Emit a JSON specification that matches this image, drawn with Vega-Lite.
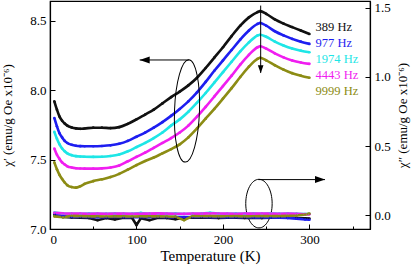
{
  "$schema": "https://vega.github.io/schema/vega-lite/v6.json",
  "width": 320,
  "height": 228,
  "autosize": "none",
  "padding": {"left": 50, "top": 1, "right": 46, "bottom": 37},
  "config": {
    "font": "Liberation Serif",
    "view": {"stroke": "black", "strokeWidth": 1.2},
    "axis": {
      "grid": false,
      "domainColor": "black",
      "domainWidth": 1.2,
      "tickColor": "black",
      "tickWidth": 1,
      "labelFont": "Liberation Serif",
      "labelFontSize": 13,
      "labelColor": "black",
      "titleFont": "Liberation Serif",
      "titleFontWeight": "normal",
      "titleColor": "black"
    },
    "legend": {"labelFont": "Liberation Serif"}
  },
  "datasets": {
    "chi1": [
      {"T":5,"f":"389 Hz","v":7.92},{"T":8,"f":"389 Hz","v":7.86},{"T":11,"f":"389 Hz","v":7.81},{"T":14,"f":"389 Hz","v":7.78},{"T":17,"f":"389 Hz","v":7.76},{"T":20,"f":"389 Hz","v":7.745},{"T":25,"f":"389 Hz","v":7.732},{"T":30,"f":"389 Hz","v":7.725},{"T":35,"f":"389 Hz","v":7.722},{"T":40,"f":"389 Hz","v":7.724},{"T":50,"f":"389 Hz","v":7.73},{"T":60,"f":"389 Hz","v":7.73},{"T":70,"f":"389 Hz","v":7.727},{"T":80,"f":"389 Hz","v":7.734},{"T":90,"f":"389 Hz","v":7.758},{"T":100,"f":"389 Hz","v":7.79},{"T":110,"f":"389 Hz","v":7.825},{"T":120,"f":"389 Hz","v":7.86},{"T":130,"f":"389 Hz","v":7.905},{"T":140,"f":"389 Hz","v":7.95},{"T":150,"f":"389 Hz","v":7.99},{"T":160,"f":"389 Hz","v":8.035},{"T":170,"f":"389 Hz","v":8.09},{"T":180,"f":"389 Hz","v":8.16},{"T":190,"f":"389 Hz","v":8.235},{"T":200,"f":"389 Hz","v":8.31},{"T":210,"f":"389 Hz","v":8.39},{"T":220,"f":"389 Hz","v":8.465},{"T":230,"f":"389 Hz","v":8.525},{"T":240,"f":"389 Hz","v":8.563},{"T":243,"f":"389 Hz","v":8.57},{"T":250,"f":"389 Hz","v":8.55},{"T":260,"f":"389 Hz","v":8.51},{"T":270,"f":"389 Hz","v":8.48},{"T":280,"f":"389 Hz","v":8.455},{"T":290,"f":"389 Hz","v":8.43},{"T":300,"f":"389 Hz","v":8.405},
      {"T":5,"f":"977 Hz","v":7.8},{"T":8,"f":"977 Hz","v":7.74},{"T":11,"f":"977 Hz","v":7.69},{"T":14,"f":"977 Hz","v":7.66},{"T":17,"f":"977 Hz","v":7.635},{"T":20,"f":"977 Hz","v":7.62},{"T":25,"f":"977 Hz","v":7.607},{"T":30,"f":"977 Hz","v":7.6},{"T":35,"f":"977 Hz","v":7.597},{"T":40,"f":"977 Hz","v":7.596},{"T":50,"f":"977 Hz","v":7.596},{"T":60,"f":"977 Hz","v":7.598},{"T":70,"f":"977 Hz","v":7.603},{"T":80,"f":"977 Hz","v":7.614},{"T":90,"f":"977 Hz","v":7.635},{"T":100,"f":"977 Hz","v":7.665},{"T":110,"f":"977 Hz","v":7.695},{"T":120,"f":"977 Hz","v":7.73},{"T":130,"f":"977 Hz","v":7.77},{"T":140,"f":"977 Hz","v":7.815},{"T":150,"f":"977 Hz","v":7.865},{"T":160,"f":"977 Hz","v":7.92},{"T":170,"f":"977 Hz","v":7.985},{"T":180,"f":"977 Hz","v":8.06},{"T":190,"f":"977 Hz","v":8.14},{"T":200,"f":"977 Hz","v":8.215},{"T":210,"f":"977 Hz","v":8.29},{"T":220,"f":"977 Hz","v":8.365},{"T":230,"f":"977 Hz","v":8.43},{"T":240,"f":"977 Hz","v":8.478},{"T":243,"f":"977 Hz","v":8.485},{"T":250,"f":"977 Hz","v":8.465},{"T":260,"f":"977 Hz","v":8.425},{"T":270,"f":"977 Hz","v":8.395},{"T":280,"f":"977 Hz","v":8.37},{"T":290,"f":"977 Hz","v":8.35},{"T":300,"f":"977 Hz","v":8.334},
      {"T":5,"f":"1974 Hz","v":7.7},{"T":8,"f":"1974 Hz","v":7.65},{"T":11,"f":"1974 Hz","v":7.61},{"T":14,"f":"1974 Hz","v":7.58},{"T":17,"f":"1974 Hz","v":7.56},{"T":20,"f":"1974 Hz","v":7.545},{"T":25,"f":"1974 Hz","v":7.532},{"T":30,"f":"1974 Hz","v":7.525},{"T":35,"f":"1974 Hz","v":7.522},{"T":40,"f":"1974 Hz","v":7.521},{"T":50,"f":"1974 Hz","v":7.52},{"T":60,"f":"1974 Hz","v":7.521},{"T":70,"f":"1974 Hz","v":7.526},{"T":80,"f":"1974 Hz","v":7.537},{"T":90,"f":"1974 Hz","v":7.56},{"T":100,"f":"1974 Hz","v":7.59},{"T":110,"f":"1974 Hz","v":7.62},{"T":120,"f":"1974 Hz","v":7.655},{"T":130,"f":"1974 Hz","v":7.695},{"T":140,"f":"1974 Hz","v":7.745},{"T":150,"f":"1974 Hz","v":7.79},{"T":160,"f":"1974 Hz","v":7.845},{"T":170,"f":"1974 Hz","v":7.91},{"T":180,"f":"1974 Hz","v":7.98},{"T":190,"f":"1974 Hz","v":8.055},{"T":200,"f":"1974 Hz","v":8.13},{"T":210,"f":"1974 Hz","v":8.205},{"T":220,"f":"1974 Hz","v":8.28},{"T":230,"f":"1974 Hz","v":8.345},{"T":240,"f":"1974 Hz","v":8.395},{"T":243,"f":"1974 Hz","v":8.4},{"T":250,"f":"1974 Hz","v":8.385},{"T":260,"f":"1974 Hz","v":8.35},{"T":270,"f":"1974 Hz","v":8.322},{"T":280,"f":"1974 Hz","v":8.3},{"T":290,"f":"1974 Hz","v":8.285},{"T":300,"f":"1974 Hz","v":8.274},
      {"T":5,"f":"4443 Hz","v":7.58},{"T":8,"f":"4443 Hz","v":7.535},{"T":11,"f":"4443 Hz","v":7.505},{"T":14,"f":"4443 Hz","v":7.48},{"T":17,"f":"4443 Hz","v":7.465},{"T":20,"f":"4443 Hz","v":7.452},{"T":25,"f":"4443 Hz","v":7.443},{"T":30,"f":"4443 Hz","v":7.438},{"T":35,"f":"4443 Hz","v":7.436},{"T":40,"f":"4443 Hz","v":7.435},{"T":50,"f":"4443 Hz","v":7.435},{"T":60,"f":"4443 Hz","v":7.437},{"T":70,"f":"4443 Hz","v":7.443},{"T":80,"f":"4443 Hz","v":7.457},{"T":90,"f":"4443 Hz","v":7.488},{"T":100,"f":"4443 Hz","v":7.52},{"T":110,"f":"4443 Hz","v":7.55},{"T":120,"f":"4443 Hz","v":7.585},{"T":130,"f":"4443 Hz","v":7.62},{"T":140,"f":"4443 Hz","v":7.655},{"T":150,"f":"4443 Hz","v":7.695},{"T":160,"f":"4443 Hz","v":7.745},{"T":170,"f":"4443 Hz","v":7.81},{"T":180,"f":"4443 Hz","v":7.88},{"T":190,"f":"4443 Hz","v":7.955},{"T":200,"f":"4443 Hz","v":8.03},{"T":210,"f":"4443 Hz","v":8.105},{"T":220,"f":"4443 Hz","v":8.185},{"T":230,"f":"4443 Hz","v":8.255},{"T":240,"f":"4443 Hz","v":8.31},{"T":243,"f":"4443 Hz","v":8.317},{"T":250,"f":"4443 Hz","v":8.3},{"T":260,"f":"4443 Hz","v":8.265},{"T":270,"f":"4443 Hz","v":8.237},{"T":280,"f":"4443 Hz","v":8.215},{"T":290,"f":"4443 Hz","v":8.2},{"T":300,"f":"4443 Hz","v":8.19},
      {"T":5,"f":"9999 Hz","v":7.48},{"T":8,"f":"9999 Hz","v":7.43},{"T":11,"f":"9999 Hz","v":7.39},{"T":14,"f":"9999 Hz","v":7.36},{"T":17,"f":"9999 Hz","v":7.335},{"T":20,"f":"9999 Hz","v":7.316},{"T":25,"f":"9999 Hz","v":7.302},{"T":30,"f":"9999 Hz","v":7.298},{"T":35,"f":"9999 Hz","v":7.308},{"T":40,"f":"9999 Hz","v":7.325},{"T":50,"f":"9999 Hz","v":7.345},{"T":60,"f":"9999 Hz","v":7.358},{"T":70,"f":"9999 Hz","v":7.374},{"T":80,"f":"9999 Hz","v":7.397},{"T":90,"f":"9999 Hz","v":7.428},{"T":100,"f":"9999 Hz","v":7.46},{"T":110,"f":"9999 Hz","v":7.49},{"T":120,"f":"9999 Hz","v":7.515},{"T":130,"f":"9999 Hz","v":7.545},{"T":140,"f":"9999 Hz","v":7.575},{"T":150,"f":"9999 Hz","v":7.61},{"T":160,"f":"9999 Hz","v":7.66},{"T":170,"f":"9999 Hz","v":7.725},{"T":180,"f":"9999 Hz","v":7.795},{"T":190,"f":"9999 Hz","v":7.865},{"T":200,"f":"9999 Hz","v":7.94},{"T":210,"f":"9999 Hz","v":8.015},{"T":220,"f":"9999 Hz","v":8.095},{"T":230,"f":"9999 Hz","v":8.17},{"T":240,"f":"9999 Hz","v":8.226},{"T":243,"f":"9999 Hz","v":8.234},{"T":250,"f":"9999 Hz","v":8.215},{"T":260,"f":"9999 Hz","v":8.18},{"T":270,"f":"9999 Hz","v":8.148},{"T":280,"f":"9999 Hz","v":8.123},{"T":290,"f":"9999 Hz","v":8.105},{"T":300,"f":"9999 Hz","v":8.09}
    ],
    "chi2": [
      {"T":5,"f":"389 Hz","w":0.004},{"T":15,"f":"389 Hz","w":-0.012},{"T":25,"f":"389 Hz","w":-0.016},{"T":35,"f":"389 Hz","w":-0.018},{"T":45,"f":"389 Hz","w":-0.02},{"T":55,"f":"389 Hz","w":-0.035},{"T":65,"f":"389 Hz","w":-0.02},{"T":75,"f":"389 Hz","w":-0.03},{"T":85,"f":"389 Hz","w":-0.018},{"T":95,"f":"389 Hz","w":-0.02},{"T":100,"f":"389 Hz","w":-0.07},{"T":105,"f":"389 Hz","w":-0.022},{"T":115,"f":"389 Hz","w":-0.035},{"T":125,"f":"389 Hz","w":-0.018},{"T":135,"f":"389 Hz","w":-0.02},{"T":145,"f":"389 Hz","w":-0.028},{"T":155,"f":"389 Hz","w":-0.018},{"T":165,"f":"389 Hz","w":-0.016},{"T":175,"f":"389 Hz","w":-0.018},{"T":185,"f":"389 Hz","w":-0.017},{"T":195,"f":"389 Hz","w":-0.02},{"T":205,"f":"389 Hz","w":-0.018},{"T":215,"f":"389 Hz","w":-0.017},{"T":225,"f":"389 Hz","w":-0.019},{"T":235,"f":"389 Hz","w":-0.018},{"T":245,"f":"389 Hz","w":-0.02},{"T":255,"f":"389 Hz","w":-0.018},{"T":265,"f":"389 Hz","w":-0.016},{"T":275,"f":"389 Hz","w":-0.018},{"T":285,"f":"389 Hz","w":-0.02},{"T":295,"f":"389 Hz","w":-0.022},{"T":300,"f":"389 Hz","w":-0.024},
      {"T":5,"f":"977 Hz","w":0.014},{"T":15,"f":"977 Hz","w":-0.006},{"T":25,"f":"977 Hz","w":-0.012},{"T":35,"f":"977 Hz","w":-0.011},{"T":45,"f":"977 Hz","w":-0.013},{"T":55,"f":"977 Hz","w":-0.012},{"T":65,"f":"977 Hz","w":-0.014},{"T":75,"f":"977 Hz","w":-0.011},{"T":85,"f":"977 Hz","w":-0.013},{"T":95,"f":"977 Hz","w":-0.012},{"T":105,"f":"977 Hz","w":-0.014},{"T":115,"f":"977 Hz","w":-0.012},{"T":125,"f":"977 Hz","w":-0.011},{"T":135,"f":"977 Hz","w":-0.013},{"T":145,"f":"977 Hz","w":-0.012},{"T":155,"f":"977 Hz","w":-0.015},{"T":165,"f":"977 Hz","w":-0.012},{"T":175,"f":"977 Hz","w":-0.011},{"T":185,"f":"977 Hz","w":-0.013},{"T":195,"f":"977 Hz","w":-0.012},{"T":205,"f":"977 Hz","w":-0.014},{"T":215,"f":"977 Hz","w":-0.013},{"T":225,"f":"977 Hz","w":-0.012},{"T":235,"f":"977 Hz","w":-0.015},{"T":245,"f":"977 Hz","w":-0.014},{"T":255,"f":"977 Hz","w":-0.016},{"T":265,"f":"977 Hz","w":-0.018},{"T":275,"f":"977 Hz","w":-0.02},{"T":285,"f":"977 Hz","w":-0.024},{"T":295,"f":"977 Hz","w":-0.03},{"T":300,"f":"977 Hz","w":-0.032},
      {"T":5,"f":"1974 Hz","w":0.02},{"T":15,"f":"1974 Hz","w":0.013},{"T":25,"f":"1974 Hz","w":0.01},{"T":35,"f":"1974 Hz","w":0.011},{"T":45,"f":"1974 Hz","w":0.012},{"T":55,"f":"1974 Hz","w":0.01},{"T":65,"f":"1974 Hz","w":0.011},{"T":75,"f":"1974 Hz","w":0.012},{"T":85,"f":"1974 Hz","w":0.01},{"T":95,"f":"1974 Hz","w":0.011},{"T":105,"f":"1974 Hz","w":0.017},{"T":115,"f":"1974 Hz","w":0.011},{"T":125,"f":"1974 Hz","w":0.012},{"T":135,"f":"1974 Hz","w":0.01},{"T":145,"f":"1974 Hz","w":0.012},{"T":155,"f":"1974 Hz","w":0.009},{"T":165,"f":"1974 Hz","w":0.011},{"T":175,"f":"1974 Hz","w":0.012},{"T":185,"f":"1974 Hz","w":0.018},{"T":195,"f":"1974 Hz","w":0.012},{"T":205,"f":"1974 Hz","w":0.011},{"T":215,"f":"1974 Hz","w":0.012},{"T":225,"f":"1974 Hz","w":0.01},{"T":235,"f":"1974 Hz","w":0.012},{"T":245,"f":"1974 Hz","w":0.011},{"T":255,"f":"1974 Hz","w":0.015},{"T":265,"f":"1974 Hz","w":0.011},{"T":275,"f":"1974 Hz","w":0.012},{"T":285,"f":"1974 Hz","w":0.01},{"T":295,"f":"1974 Hz","w":0.009},{"T":300,"f":"1974 Hz","w":0.009},
      {"T":5,"f":"4443 Hz","w":0.018},{"T":15,"f":"4443 Hz","w":0.014},{"T":25,"f":"4443 Hz","w":0.012},{"T":35,"f":"4443 Hz","w":0.013},{"T":45,"f":"4443 Hz","w":0.011},{"T":55,"f":"4443 Hz","w":0.012},{"T":65,"f":"4443 Hz","w":0.01},{"T":75,"f":"4443 Hz","w":0.013},{"T":85,"f":"4443 Hz","w":0.012},{"T":95,"f":"4443 Hz","w":0.011},{"T":105,"f":"4443 Hz","w":0.013},{"T":115,"f":"4443 Hz","w":0.012},{"T":125,"f":"4443 Hz","w":0.014},{"T":135,"f":"4443 Hz","w":0.012},{"T":145,"f":"4443 Hz","w":0.011},{"T":155,"f":"4443 Hz","w":0.01},{"T":165,"f":"4443 Hz","w":0.013},{"T":175,"f":"4443 Hz","w":0.012},{"T":185,"f":"4443 Hz","w":0.014},{"T":195,"f":"4443 Hz","w":0.013},{"T":205,"f":"4443 Hz","w":0.012},{"T":215,"f":"4443 Hz","w":0.011},{"T":225,"f":"4443 Hz","w":0.013},{"T":235,"f":"4443 Hz","w":0.012},{"T":245,"f":"4443 Hz","w":0.013},{"T":255,"f":"4443 Hz","w":0.012},{"T":265,"f":"4443 Hz","w":0.011},{"T":275,"f":"4443 Hz","w":0.012},{"T":285,"f":"4443 Hz","w":0.01},{"T":295,"f":"4443 Hz","w":0.008},{"T":300,"f":"4443 Hz","w":0.007},
      {"T":5,"f":"9999 Hz","w":-0.008},{"T":15,"f":"9999 Hz","w":-0.014},{"T":25,"f":"9999 Hz","w":-0.004},{"T":35,"f":"9999 Hz","w":-0.006},{"T":45,"f":"9999 Hz","w":-0.008},{"T":55,"f":"9999 Hz","w":-0.007},{"T":65,"f":"9999 Hz","w":-0.009},{"T":75,"f":"9999 Hz","w":-0.008},{"T":85,"f":"9999 Hz","w":-0.007},{"T":95,"f":"9999 Hz","w":-0.009},{"T":105,"f":"9999 Hz","w":-0.008},{"T":115,"f":"9999 Hz","w":-0.007},{"T":125,"f":"9999 Hz","w":-0.008},{"T":135,"f":"9999 Hz","w":-0.009},{"T":145,"f":"9999 Hz","w":-0.01},{"T":155,"f":"9999 Hz","w":-0.035},{"T":165,"f":"9999 Hz","w":-0.006},{"T":175,"f":"9999 Hz","w":-0.007},{"T":185,"f":"9999 Hz","w":-0.006},{"T":195,"f":"9999 Hz","w":-0.008},{"T":205,"f":"9999 Hz","w":-0.007},{"T":215,"f":"9999 Hz","w":-0.006},{"T":225,"f":"9999 Hz","w":-0.008},{"T":235,"f":"9999 Hz","w":-0.007},{"T":245,"f":"9999 Hz","w":-0.006},{"T":255,"f":"9999 Hz","w":-0.005},{"T":265,"f":"9999 Hz","w":-0.006},{"T":275,"f":"9999 Hz","w":-0.004},{"T":285,"f":"9999 Hz","w":-0.002},{"T":295,"f":"9999 Hz","w":0.006},{"T":300,"f":"9999 Hz","w":0.012}
    ]
  },
  "layer": [
    {
      "layer": [
        {
          "data": {"name": "chi1"},
          "mark": {"type": "line", "strokeWidth": 2.6, "interpolate": "monotone"},
          "encoding": {
            "x": {"field": "T", "type": "quantitative",
                  "scale": {"domain": [0, 370], "nice": false, "zero": false},
                  "axis": {"title": "Temperature (K)", "titleFontSize": 15, "titlePadding": 2,
                           "titleFont": "Liberation Serif", "titleFontWeight": "normal",
                           "labelFont": "Liberation Serif",
                           "values": [0, 50, 100, 150, 200, 250, 300, 350],
                           "labelExpr": "datum.value % 100 == 0 ? datum.label : ''",
                           "tickSize": {"condition": {"test": "datum.value % 100 == 0", "value": -5}, "value": -3},
                           "labelPadding": 9}},
            "y": {"field": "v", "type": "quantitative",
                  "scale": {"domain": [7.0, 8.643], "nice": false, "zero": false},
                  "axis": {"title": "χ′ (emu/g Oe x10⁻⁶)", "titleFontSize": 13, "titlePadding": 15,
                           "titleFont": "Liberation Serif", "titleFontWeight": "normal",
                           "labelFont": "Liberation Serif",
                           "values": [7.0, 7.25, 7.5, 7.75, 8.0, 8.25, 8.5],
                           "labelExpr": "abs(datum.value*2 - round(datum.value*2)) < 0.01 ? format(datum.value, '.1f') : ''",
                           "tickSize": {"condition": {"test": "abs(datum.value*2 - round(datum.value*2)) < 0.01", "value": -5}, "value": -3},
                           "labelPadding": 9}},
            "color": {"field": "f", "type": "nominal",
                      "scale": {"domain": ["389 Hz", "977 Hz", "1974 Hz", "4443 Hz", "9999 Hz"],
                                "range": ["#111111", "#1e1ef0", "#1ee6e6", "#f01ef0", "#8c8c14"]},
                      "legend": {"orient": "none", "legendX": 253, "legendY": 20, "title": null,
                                 "padding": 0, "labelOffset": 0, "symbolSize": 0, "symbolOpacity": 0,
                                 "symbolStrokeWidth": 0, "labelFont": "Liberation Serif", "labelFontSize": 12.5,
                                 "rowPadding": 3,
                                 "encode": {"labels": {"update": {"fill": {"scale": "color", "field": "value"}}}}}}
          }
        },
        {
          "data": {"name": "chi1"},
          "mark": {"type": "point", "filled": true, "size": 7, "opacity": 1},
          "encoding": {
            "x": {"field": "T", "type": "quantitative"},
            "y": {"field": "v", "type": "quantitative"},
            "color": {"field": "f", "type": "nominal"}
          }
        },
        {
          "data": {"values": [
            {"T": 103.7, "T2": 160.8, "v": 8.218, "v2": 8.218},
            {"T": 241.0, "T2": 318.0, "v": 7.356, "v2": 7.356},
            {"T": 243.6, "T2": 243.6, "v": 8.61, "v2": 8.125}
          ]},
          "mark": {"type": "rule", "color": "black", "strokeWidth": 1},
          "encoding": {
            "x": {"field": "T", "type": "quantitative"},
            "x2": {"field": "T2"},
            "y": {"field": "v", "type": "quantitative"},
            "y2": {"field": "v2"}
          }
        },
        {
          "data": {"values": [{"T": 103.7, "v": 8.218}]},
          "mark": {"type": "point", "shape": "M0,0 L2,-0.7 L2,0.7 Z", "size": 100, "filled": true, "color": "black", "opacity": 1},
          "encoding": {"x": {"field": "T", "type": "quantitative"}, "y": {"field": "v", "type": "quantitative"}}
        },
        {
          "data": {"values": [{"T": 318.0, "v": 7.356}]},
          "mark": {"type": "point", "shape": "M0,0 L-2,-0.7 L-2,0.7 Z", "size": 100, "filled": true, "color": "black", "opacity": 1},
          "encoding": {"x": {"field": "T", "type": "quantitative"}, "y": {"field": "v", "type": "quantitative"}}
        },
        {
          "data": {"values": [{"T": 243.6, "v": 8.122}]},
          "mark": {"type": "point", "shape": "M0,0 L-0.7,-2 L0.7,-2 Z", "size": 64, "filled": true, "color": "black", "opacity": 1},
          "encoding": {"x": {"field": "T", "type": "quantitative"}, "y": {"field": "v", "type": "quantitative"}}
        },
        {
          "data": {"values": [{"T": 158.4, "v": 7.851}]},
          "mark": {"type": "point", "shape": "M0,-1 C0.1348,-1 0.244,-0.5523 0.244,0 C0.244,0.5523 0.1348,1 0,1 C-0.1348,1 -0.244,0.5523 -0.244,0 C-0.244,-0.5523 -0.1348,-1 0,-1 Z",
                   "size": 10486, "filled": false, "stroke": "black", "strokeWidth": 1, "opacity": 1, "angle": 2},
          "encoding": {"x": {"field": "T", "type": "quantitative"}, "y": {"field": "v", "type": "quantitative"}}
        },
        {
          "data": {"values": [{"T": 241.6, "v": 7.183}]},
          "mark": {"type": "point", "shape": "M0,-1 C0.3,-1 0.543,-0.5523 0.543,0 C0.543,0.5523 0.3,1 0,1 C-0.3,1 -0.543,0.5523 -0.543,0 C-0.543,-0.5523 -0.3,-1 0,-1 Z",
                   "size": 2362, "filled": false, "stroke": "black", "strokeWidth": 1, "opacity": 1},
          "encoding": {"x": {"field": "T", "type": "quantitative"}, "y": {"field": "v", "type": "quantitative"}}
        }
      ]
    },
    {
      "data": {"name": "chi2"},
      "layer": [
        {
          "mark": {"type": "line", "strokeWidth": 2.6},
          "encoding": {
            "x": {"field": "T", "type": "quantitative"},
            "y": {"field": "w", "type": "quantitative",
                  "scale": {"domain": [-0.099, 1.548], "nice": false, "zero": false},
                  "axis": {"orient": "right", "title": "χ″ (emu/g Oe x10⁻⁶)", "titleFontSize": 13, "titlePadding": 19,
                           "titleAngle": 270,
                           "titleFont": "Liberation Serif", "titleFontWeight": "normal",
                           "labelFont": "Liberation Serif",
                           "values": [0, 0.25, 0.5, 0.75, 1.0, 1.25, 1.5],
                           "labelExpr": "abs(datum.value*2 - round(datum.value*2)) < 0.01 ? format(datum.value, '.1f') : ''",
                           "tickSize": {"condition": {"test": "abs(datum.value*2 - round(datum.value*2)) < 0.01", "value": -5}, "value": -3},
                           "labelPadding": 9}},
            "color": {"field": "f", "type": "nominal"}
          }
        },
        {
          "mark": {"type": "point", "filled": true, "size": 7, "opacity": 1},
          "encoding": {
            "x": {"field": "T", "type": "quantitative"},
            "y": {"field": "w", "type": "quantitative"},
            "color": {"field": "f", "type": "nominal"}
          }
        }
      ]
    }
  ],
  "resolve": {"scale": {"y": "independent"}}
}
